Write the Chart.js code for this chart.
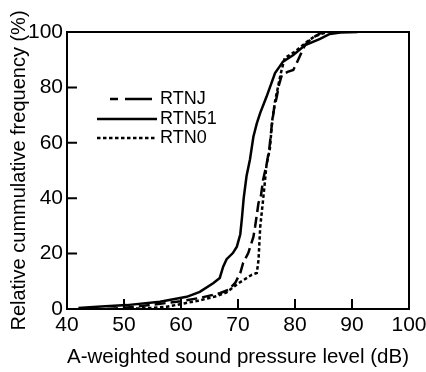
<!DOCTYPE html>
<html><head><meta charset="utf-8">
<script src="https://cdn.jsdelivr.net/npm/chart.js@4/dist/chart.umd.min.js"></script>
<style>html,body{margin:0;padding:0;background:#fff}canvas{display:block}</style>
</head><body>
<canvas id="c" width="426" height="372"></canvas>
<script>
const xTicks = [40, 50, 60, 70, 80, 90, 100];
const yTicks = [0, 20, 40, 60, 80, 100];
const seriesNames = ['RTNJ', 'RTN51', 'RTN0'];

const rtnjX = [47, 52, 56, 60, 63.3, 66.8, 68.3, 69.5, 70.4, 70.9, 71.8, 72.7, 73, 73.6, 74, 74.4, 75, 75.5, 75.9, 76.3, 76.8, 77.2, 77.7, 78.7, 79.7, 80.3, 80.9, 81.8, 83, 84.4, 86];
const rtnjY = [0, 0.8, 1.8, 2.8, 4, 5.7, 6.9, 9.4, 13, 16.6, 20.2, 26, 29.7, 38.3, 40.5, 46.6, 52, 58, 65.8, 72, 76.6, 81, 84.5, 85.6, 86.3, 88.8, 91.5, 95.5, 97.8, 99.5, 100];

const rtn51X = [42, 46, 50.5, 56.3, 61, 63.3, 65.7, 66.8, 67.4, 68, 69.1, 69.8, 70.4, 70.7, 71, 71.5, 72.1, 72.7, 73.3, 73.9, 75, 76.5, 77.9, 79.7, 81.8, 84.4, 86.1, 88, 91];
const rtn51Y = [0.4, 0.9, 1.4, 2.6, 4.4, 6.2, 9.4, 11.2, 15.3, 18, 20.2, 22.5, 27, 33, 40, 48, 54, 62.2, 67, 70.8, 76.6, 85.2, 89.3, 91.7, 95.3, 97.5, 99.3, 99.8, 100];

const rtn0X = [50, 55, 57.5, 60.5, 63, 66, 68, 70, 72.4, 73.3, 73.6, 73.9, 74.4, 74.7, 75, 75.6, 76, 76.5, 77, 77.5, 78.2, 80, 81.8, 83.5, 85.6];
const rtn0Y = [0, 0.4, 0.8, 2, 3, 4.5, 6, 9.2, 12.3, 13, 17.7, 29.7, 39.4, 45.5, 52, 58, 68, 75, 80, 85, 90.6, 92.9, 96, 98.5, 100];

const FONT = "'Liberation Sans', Arial, sans-serif";
const toPts = (xs, ys) => xs.map((x, i) => ({ x: x, y: ys[i] }));

const dashes = [[11, 5], [], [3.5, 2.5]];
const datasets = [
  { label: seriesNames[0], data: toPts(rtnjX, rtnjY) },
  { label: seriesNames[1], data: toPts(rtn51X, rtn51Y) },
  { label: seriesNames[2], data: toPts(rtn0X, rtn0Y) }
].map((d, i) => Object.assign(d, {
  borderColor: '#000', borderWidth: 2.5, borderDash: dashes[i],
  pointRadius: 0, showLine: true, fill: false, tension: 0
}));

const framePlugin = {
  id: 'frame',
  afterDatasetsDraw(chart) {
    const { ctx, chartArea: a, scales: { x, y } } = chart;
    ctx.save();
    ctx.strokeStyle = '#000';
    ctx.lineWidth = 2;
    ctx.setLineDash([]);
    ctx.beginPath();
    ctx.moveTo(a.left, a.top); ctx.lineTo(a.right, a.top); ctx.lineTo(a.right, a.bottom);
    xTicks.slice(1, -1).forEach(v => { const p = x.getPixelForValue(v); ctx.moveTo(p, a.bottom); ctx.lineTo(p, a.bottom - 10); });
    yTicks.slice(1, -1).forEach(v => { const p = y.getPixelForValue(v); ctx.moveTo(a.left, p); ctx.lineTo(a.left + 10, p); });
    ctx.stroke();
    // legend
    const rows = [99, 119, 138];
    ctx.font = '18px ' + FONT;
    ctx.fillStyle = '#000';
    ctx.textBaseline = 'middle';
    ctx.textAlign = 'left';
    rows.forEach((ry, i) => {
      ctx.lineWidth = 2.5;
      ctx.beginPath();
      if (i === 0) { ctx.setLineDash([8, 7, 30, 7]); ctx.moveTo(110, ry); ctx.lineTo(152, ry); }
      else { ctx.setLineDash(dashes[i]); ctx.moveTo(97, ry); ctx.lineTo(157, ry); }
      ctx.stroke();
      ctx.setLineDash([]);
      ctx.fillText(seriesNames[i], 160, ry);
    });
    ctx.restore();
  }
};

new Chart(document.getElementById('c'), {
  type: 'scatter',
  data: { datasets },
  options: {
    responsive: false, animation: false, devicePixelRatio: 1,
    layout: { padding: { top: 32, right: 17, left: 0, bottom: 0 } },
    plugins: { legend: { display: false }, tooltip: { enabled: false } },
    scales: {
      x: {
        type: 'linear', min: 40, max: 100,
        afterBuildTicks: s => { s.ticks = xTicks.map(v => ({ value: v })); },
        ticks: { font: { family: FONT, size: 21 }, color: '#000', padding: 4, maxRotation: 0, autoSkip: false },
        grid: { display: false, drawTicks: false },
        border: { display: true, color: '#000', width: 2 },
        title: { display: true, text: 'A-weighted sound pressure level (dB)', font: { family: FONT, size: 21 }, color: '#000', padding: { top: 0, bottom: 2 } },
        afterFit: s => { s.height = 63; s.paddingLeft = 0; s.paddingRight = 0; }
      },
      y: {
        type: 'linear', min: 0, max: 100,
        afterBuildTicks: s => { s.ticks = yTicks.map(v => ({ value: v })); },
        ticks: { font: { family: FONT, size: 21 }, color: '#000', padding: 4, autoSkip: false },
        grid: { display: false, drawTicks: false },
        border: { display: true, color: '#000', width: 2 },
        title: { display: true, text: 'Relative cummulative frequency (%)', font: { family: FONT, size: 20 }, color: '#000', padding: { top: 7, bottom: 0 } },
        afterFit: s => { s.width = 67; s.paddingTop = 0; s.paddingBottom = 0; }
      }
    }
  },
  plugins: [framePlugin]
});
</script>
</body></html>
